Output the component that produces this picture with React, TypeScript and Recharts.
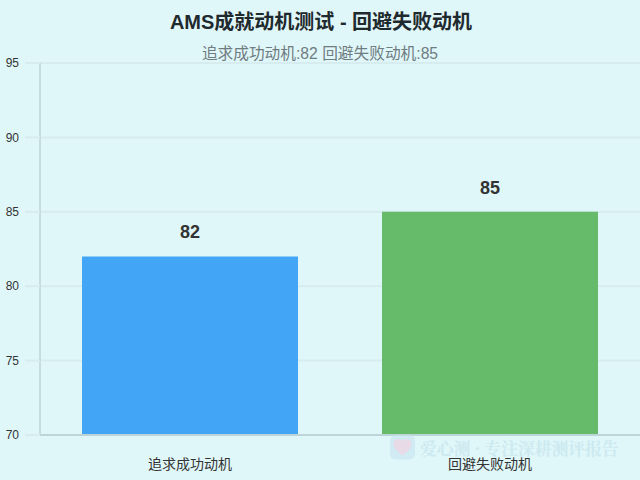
import { BarChart, Bar, XAxis, YAxis, CartesianGrid, Cell, LabelList } from "recharts";

const categories = ["追求成功动机", "回避失败动机"];
const scores = [82, 85];
const barColors = ["#42A5F5", "#66BB6A"];
const yTicks = [70, 75, 80, 85, 90, 95];

const FONT = '"Liberation Sans", "Noto Sans CJK SC", sans-serif';

const data = categories.map((name, i) => ({ name, score: scores[i] }));

export default function App() {
  return (
    <div
      style={{
        position: "absolute",
        left: 0,
        top: 0,
        width: 640,
        height: 480,
        overflow: "hidden",
        background: "#E0F7FA",
        fontFamily: FONT,
      }}
    >
      <BarChart
        width={640}
        height={480}
        data={data}
        margin={{ top: 63, right: 0, bottom: 0, left: 0 }}
        barCategoryGap="14%"
      >
        <CartesianGrid horizontal vertical={false} stroke="#D6ECEF" strokeWidth={2} />
        <XAxis
          dataKey="name"
          height={45}
          tickSize={0}
          tickMargin={24}
          interval={0}
          axisLine={{ stroke: "#BDD5D8", strokeWidth: 2 }}
          tick={{ fontSize: 14, fill: "#333333", fontFamily: FONT }}
        />
        <YAxis
          width={40}
          domain={[70, 95]}
          ticks={yTicks}
          interval={0}
          tickSize={15}
          tickMargin={6}
          axisLine={{ stroke: "#C5DDE0", strokeWidth: 2 }}
          tickLine={{ stroke: "#D6ECEF", strokeWidth: 2 }}
          tick={{ fontSize: 12, fill: "#333333", fontFamily: FONT }}
        />
        <Bar dataKey="score" isAnimationActive={false}>
          {data.map((d, i) => (
            <Cell key={d.name} fill={barColors[i]} />
          ))}
          <LabelList
            dataKey="score"
            position="top"
            offset={18}
            style={{ fontSize: 18, fontWeight: 700, fill: "#333333", fontFamily: FONT }}
          />
        </Bar>
      </BarChart>

      <div
        style={{
          position: "absolute",
          top: 10,
          left: 0,
          width: 642,
          textAlign: "center",
          fontSize: 20,
          lineHeight: "24px",
          fontWeight: 700,
          color: "#1F2A2E",
        }}
      >
        AMS成就动机测试 - 回避失败动机
      </div>
      <div
        style={{
          position: "absolute",
          top: 44,
          left: 0,
          width: 640,
          textAlign: "center",
          fontSize: 15.7,
          lineHeight: "20px",
          color: "#6F7C80",
        }}
      >
        追求成功动机:82 回避失败动机:85
      </div>

      <div
        style={{
          position: "absolute",
          left: 390,
          top: 435,
          height: 25,
          display: "flex",
          alignItems: "center",
          gap: 5,
          opacity: 0.8,
        }}
      >
        <svg width={25} height={25} viewBox="0 0 25 24">
          <rect x={0} y={0} width={25} height={24} rx={5} fill="#CDE9F2" />
          <path
            d="M12.5 20 C6 15 3.5 12 3.5 8.5 C3.5 5.5 6 3.5 8.5 3.5 C10.5 3.5 11.8 4.6 12.5 6 C13.3 4.6 14.6 3.5 16.5 3.5 C19 3.5 21.5 5.5 21.5 8.5 C21.5 12 19 15 12.5 20 Z"
            fill="#EBD3E2"
          />
        </svg>
        <span
          style={{
            fontFamily: '"Noto Serif CJK SC", "Liberation Serif", "Noto Sans CJK SC", serif',
            fontSize: 16.8,
            lineHeight: "16px",
            display: "block",
            fontWeight: 700,
            color: "#C8E6EE",
            whiteSpace: "nowrap",
          }}
        >
          爱心测 · 专注深耕测评报告
        </span>
      </div>
    </div>
  );
}
